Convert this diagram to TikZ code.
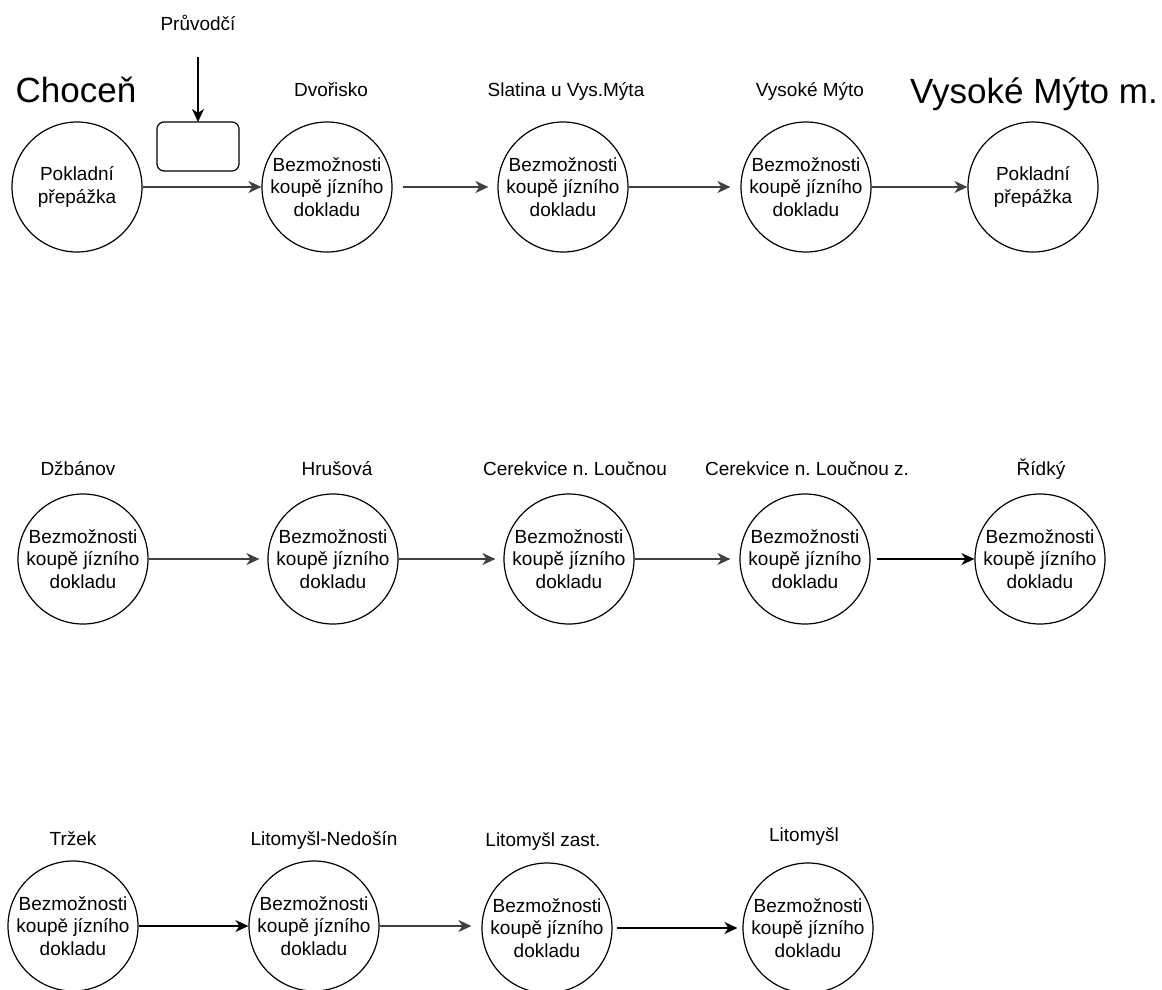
\documentclass[tikz,border=0pt]{standalone}
\usepackage{fontspec}
\setmainfont{Liberation Sans}
\usetikzlibrary{arrows.meta}
\frenchspacing

\begin{document}
\begin{tikzpicture}[x=1pt,y=-1pt,
  stn/.style={circle,draw,line width=1.2pt,minimum size=130pt,inner sep=0pt,
    align=center,font=\fontsize{19}{22.5}\selectfont},
  lbl/.style={font=\fontsize{19}{22}\selectfont,inner sep=0pt,anchor=base},
  big/.style={font=\fontsize{35}{40}\selectfont,inner sep=0pt,anchor=base},
  tip/.style={-{Stealth[length=13pt,width=12pt,inset=4pt]}},
  heavyarr/.style={tip,line width=1.7pt,draw=black!75},
  lightarr/.style={tip,line width=1.3pt,draw=black}]

\useasboundingbox (0,0) rectangle (1162,989);

% --- first line: Choceň -> Vysoké Mýto m.
\node[big] (lchocen) at (76,102) {Choceň};
\node[lbl] (lpruv) at (198,30) {Průvodčí};
\node[lbl] (ldvor) at (331,96) {Dvořisko};
\node[lbl] (lslat) at (566,96) {Slatina u Vys.Mýta};
\node[lbl] (lvm) at (810,96) {Vysoké Mýto};
\node[big] (lvmm) at (1034,103) {Vysoké Mýto m.};

\node[stn] (a1) at (77,187) {Pokladní\\přepážka};
\node[stn] (a2) at (327,187) {Bezmožnosti\\koupě jízního\\dokladu};
\node[stn] (a3) at (563,187) {Bezmožnosti\\koupě jízního\\dokladu};
\node[stn] (a4) at (806,187) {Bezmožnosti\\koupě jízního\\dokladu};
\node[stn] (a5) at (1033,187) {Pokladní\\přepážka};

\draw[line width=1.2pt,rounded corners=7pt] (157,122) rectangle (239,171);
\coordinate (boxtop) at (198,122);
\coordinate (pstart) at (198,57);
\draw[lightarr] (pstart) -- (boxtop);

\draw[heavyarr] (a1.east) -- (a2.west);
\draw[heavyarr,shorten <=10pt,shorten >=9pt] (a2.east) -- (a3.west);
\draw[heavyarr,shorten >=10pt] (a3.east) -- (a4.west);
\draw[heavyarr] (a4.east) -- (a5.west);

% --- second line: Džbánov -> Řídký
\node[lbl] (ldzb) at (78,475) {Džbánov};
\node[lbl] (lhru) at (337,475) {Hrušová};
\node[lbl] (lcer) at (575,475) {Cerekvice n. Loučnou};
\node[lbl] (lcerz) at (807,475) {Cerekvice n. Loučnou z.};
\node[lbl] (lrid) at (1041,475) {Řídký};

\node[stn] (b1) at (83,559) {Bezmožnosti\\koupě jízního\\dokladu};
\node[stn] (b2) at (333,559) {Bezmožnosti\\koupě jízního\\dokladu};
\node[stn] (b3) at (569,559) {Bezmožnosti\\koupě jízního\\dokladu};
\node[stn] (b4) at (805,559) {Bezmožnosti\\koupě jízního\\dokladu};
\node[stn] (b5) at (1040,559) {Bezmožnosti\\koupě jízního\\dokladu};

\draw[heavyarr,shorten >=8pt] (b1.east) -- (b2.west);
\draw[heavyarr,shorten >=8pt] (b2.east) -- (b3.west);
\draw[heavyarr,shorten >=9pt] (b3.east) -- (b4.west);
\draw[lightarr,shorten <=6pt] (b4.east) -- (b5.west);

% --- third line: Tržek -> Litomyšl
\node[lbl] (ltrz) at (73,845) {Tržek};
\node[lbl] (lned) at (324,845) {Litomyšl-Nedošín};
\node[lbl] (lzast) at (543,846) {Litomyšl zast.};
\node[lbl] (llit) at (804,841) {Litomyšl};

\node[stn] (c1) at (73,926) {Bezmožnosti\\koupě jízního\\dokladu};
\node[stn] (c2) at (314,926) {Bezmožnosti\\koupě jízního\\dokladu};
\node[stn] (c3) at (547,928) {Bezmožnosti\\koupě jízního\\dokladu};
\node[stn] (c4) at (808,928) {Bezmožnosti\\koupě jízního\\dokladu};

\draw[lightarr] (c1.east) -- (c2.west);
\draw[heavyarr,shorten >=10pt] (c2.east) -- (c2.east -| c3.west);
\draw[lightarr,shorten <=4pt,shorten >=5pt] (c3.east) -- (c4.west);

\end{tikzpicture}
\end{document}
